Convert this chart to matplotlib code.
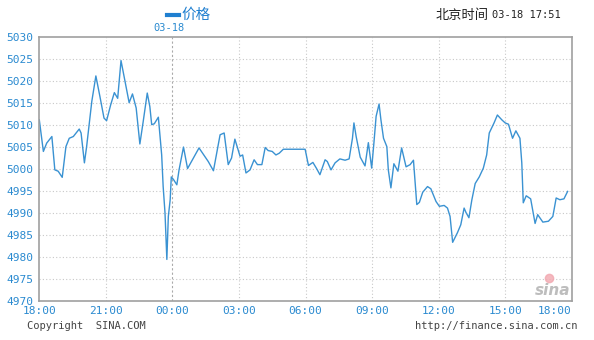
import matplotlib
matplotlib.use("Agg")
import matplotlib.pyplot as plt
from matplotlib.lines import Line2D

plt.rcParams['font.family'] = ['DejaVu Sans Mono', 'Noto Sans CJK SC']

times = ["18:00","18:11","18:20","18:34","18:42","18:51","19:02","19:12","19:21","19:32",
         "19:48","19:53","20:02","20:08","20:22","20:33","20:44","20:55","21:02","21:13",
         "21:23","21:32","21:41","21:52","22:03","22:12","22:22","22:32","22:41","22:52",
         "22:59","23:04","23:11","23:22","23:31","23:35","23:40","23:45","23:49","23:54",
         "23:57","00:03","00:12","00:18","00:30","00:41","01:12","01:37","01:51","02:09",
         "02:20","02:31","02:40","02:49","03:03","03:10","03:19","03:30","03:41","03:50",
         "04:02","04:11","04:19","04:30","04:40","04:49","05:00","05:59","06:08","06:20",
         "06:30","06:39","06:53","06:59","07:09","07:20","07:33","07:47","07:58","08:07",
         "08:11","08:17","08:28","08:41","08:50","08:59","09:05","09:11","09:19","09:24",
         "09:31","09:40","09:44","09:51","09:59","10:10","10:20","10:32","10:43","10:52",
         "11:01","11:08","11:17","11:30","11:39","11:53","12:02","12:15","12:24","12:31",
         "12:38","12:51","13:00","13:09","13:14","13:22","13:30","13:39","13:50","14:01",
         "14:10","14:17","14:30","14:39","14:51","15:00","15:09","15:20","15:29","15:40",
         "15:45","15:49","15:57","16:09","16:15","16:21","16:28","16:42","16:57","17:09",
         "17:18","17:28","17:39","17:49"]
prices = [5011.2,5004.0,5005.9,5007.4,4999.8,4999.5,4998.1,5005.1,5007.0,5007.4,
          5009.1,5008.2,5001.4,5005.1,5015.4,5021.2,5016.5,5011.6,5011.0,5014.6,
          5017.4,5016.1,5024.7,5019.9,5015.1,5017.1,5013.9,5005.7,5010.8,5017.3,
          5014.2,5010.1,5010.3,5011.8,5003.2,4996.0,4990.0,4979.4,4989.2,4993.0,
          4998.2,4997.6,4996.4,4999.8,5005.0,5000.1,5004.8,5001.7,4999.6,5007.8,
          5008.2,5001.0,5002.5,5006.8,5002.9,5003.2,4999.1,4999.8,5002.1,5001.0,
          5001.0,5004.9,5004.2,5004.0,5003.2,5003.6,5004.5,5004.5,5000.8,5001.5,
          5000.1,4998.7,5002.1,5001.7,4999.8,5001.4,5002.3,5002.0,5002.3,5007.0,
          5010.5,5007.4,5002.7,5000.7,5006.0,5000.2,5005.9,5012.0,5014.8,5011.2,
          5007.0,5005.1,4999.8,4995.7,5001.2,4999.5,5004.8,5000.5,5001.0,5002.0,
          4991.9,4992.4,4994.7,4996.0,4995.5,4992.6,4991.5,4991.7,4991.1,4989.2,
          4983.3,4985.5,4987.3,4991.1,4990.1,4988.9,4993.0,4996.7,4998.2,5000.2,
          5003.2,5008.2,5010.5,5012.3,5011.2,5010.5,5010.2,5007.0,5008.7,5007.0,
          5001.4,4992.3,4993.9,4993.2,4990.4,4987.6,4989.6,4987.9,4988.1,4989.2,
          4993.4,4993.0,4993.2,4994.9]

x_tick_labels = ["18:00","21:00","00:00","03:00","06:00","09:00","12:00","15:00","18:00"]
y_ticks = [4970,4975,4980,4985,4990,4995,5000,5005,5010,5015,5020,5025,5030]


def to_min(t):
    h, m = map(int, t.split(":"))
    return (h * 60 + m - 18 * 60) % 1440


xs = [to_min(t) for t in times]

BLUE = "#2a8ad0"
LINE = "#3a92d2"
fig = plt.figure(figsize=(5.94, 3.40), dpi=100)
ax = fig.add_axes([39.3/594, 1-300.7/340, (571.7-39.3)/594, (300.7-37.3)/340])
ax.plot(xs, prices, color=LINE, lw=1.0)
ax.set_xlim(0, 1440)
ax.set_ylim(4970, 5030)
ax.set_yticks(y_ticks)
ax.set_yticklabels([str(v) for v in y_ticks], color=BLUE, fontsize=8)
xt = [i * 180 for i in range(9)]
ax.set_xticks(xt)
ax.set_xticklabels(x_tick_labels, color=BLUE, fontsize=8)
lbls = ax.get_xticklabels()
lbls[-1].set_horizontalalignment('right')
ax.tick_params(length=0, pad=4)
for s in ax.spines.values():
    s.set_color("#a0a0a0")
    s.set_linewidth(1.2)
for v in y_ticks[1:-1]:
    ax.axhline(v, color="#c8c8c8", lw=0.8, ls=(0, (1, 2)), zorder=0)
for i, v in enumerate(xt[1:-1]):
    if v == 360:
        ax.axvline(v, color="#aaaaaa", lw=0.8, ls=(0, (2, 2)), zorder=0)
    else:
        ax.axvline(v, color="#c8c8c8", lw=0.8, ls=(0, (1, 2)), zorder=0)

# sina watermark
ax.text(0.998, 0.012, "sina", transform=ax.transAxes, ha='right', va='bottom',
        fontsize=11, color="#bdbdbd", style='italic', fontweight='bold', family='DejaVu Sans')
ax.plot([0.958], [0.088], 'o', transform=ax.transAxes, color="#f2a8b0", ms=6, alpha=0.8)

# header texts
fig.add_artist(Line2D([167/594, 179/594], [1-15/340, 1-15/340], color="#1f7fd0", lw=3,
                      transform=fig.transFigure))
fig.text(181/594, 1-15/340, "价格", color="#1f7fd0", fontsize=10.5, va='center', ha='left',
         family='Noto Sans CJK SC')
fig.text(169/594, 1-28/340, "03-18", color=BLUE, fontsize=7.5, va='center', ha='center')
fig.text(489/594, 1-15/340, "北京时间", color="#222222", fontsize=9.5, va='center', ha='right',
         family='Noto Sans CJK SC')
fig.text(492/594, 1-15/340, "03-18 17:51", color="#222222", fontsize=7.5, va='center', ha='left')
fig.text(27/594, 1-326/340, "Copyright  SINA.COM", color="#444444", fontsize=7.5, va='center', ha='left')
fig.text(577/594, 1-326/340, "http://finance.sina.com.cn", color="#444444", fontsize=7.5,
         va='center', ha='right')

fig.savefig("out.png", dpi=100)
